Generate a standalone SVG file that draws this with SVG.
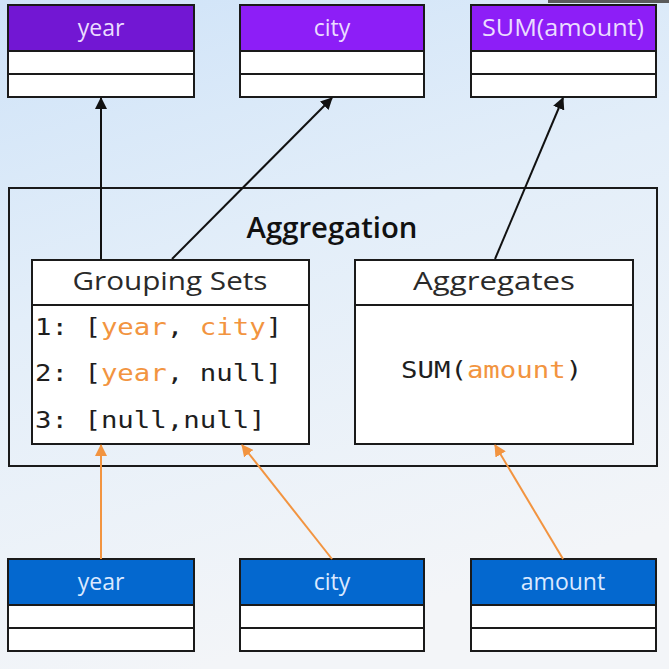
<svg xmlns="http://www.w3.org/2000/svg" width="669" height="669" viewBox="0 0 669 669">
<defs>
<linearGradient id="bg" x1="0" y1="0" x2="0.3" y2="1">
<stop offset="0" stop-color="#cfe3f8"/>
<stop offset="0.45" stop-color="#e3eef9"/>
<stop offset="1" stop-color="#f3f5f8"/>
</linearGradient>
<marker id="ab" markerWidth="12" markerHeight="12" refX="11" refY="6" orient="auto" markerUnits="userSpaceOnUse">
<path d="M0,0 L12,6 L0,12 Z" fill="#111"/>
</marker>
<marker id="ao" markerWidth="12" markerHeight="12" refX="11" refY="6" orient="auto" markerUnits="userSpaceOnUse">
<path d="M0,0 L12,6 L0,12 Z" fill="#f29440"/>
</marker>
<style>
.box{fill:#fff;stroke:#1a1a1a;stroke-width:2}
.hp1{fill:#7217d3;stroke:#1a1a1a;stroke-width:2}
.hp2{fill:#8d1ef7;stroke:#1a1a1a;stroke-width:2}
.hb{fill:#0468cf;stroke:#1a1a1a;stroke-width:2}
.ht{font-family:"Open Sans","Liberation Sans",sans-serif;font-size:23px;fill:#eadcff;text-anchor:middle}
.hbt{font-family:"Open Sans","Liberation Sans",sans-serif;font-size:23px;fill:#dbe9ff;text-anchor:middle}
.title{font-family:"Open Sans","Liberation Sans",sans-serif;font-size:26px;fill:#2a2a2a;text-anchor:middle}
.agg{font-family:"Open Sans","Liberation Sans",sans-serif;font-size:29px;font-weight:600;fill:#111;text-anchor:middle}
.mono{font-family:"DejaVu Sans Mono","Liberation Mono",monospace;font-size:23px;fill:#1e1e1e}
.or{fill:#f29440}
.cb{stroke:#111;stroke-width:2;fill:none;marker-end:url(#ab)}
.co{stroke:#f29440;stroke-width:2;fill:none;marker-end:url(#ao)}
</style>
</defs>
<rect x="0" y="0" width="669" height="669" fill="url(#bg)"/>
<rect x="548" y="0" width="121" height="3" fill="#5a5a5a"/>

<g id="out-year">
<rect class="hp1" x="8" y="5" width="186" height="46"/>
<rect class="box" x="8" y="51" width="186" height="23"/>
<rect class="box" x="8" y="74" width="186" height="23"/>
<text class="ht" x="101" y="36">year</text>
</g>
<g id="out-city">
<rect class="hp2" x="240" y="5" width="184" height="46"/>
<rect class="box" x="240" y="51" width="184" height="23"/>
<rect class="box" x="240" y="74" width="184" height="23"/>
<text class="ht" x="332" y="36">city</text>
</g>
<g id="out-sum">
<rect class="hp2" x="471" y="5" width="185" height="46"/>
<rect class="box" x="471" y="51" width="185" height="23"/>
<rect class="box" x="471" y="74" width="185" height="23"/>
<text class="ht" x="563" y="36" textLength="162" lengthAdjust="spacingAndGlyphs">SUM(amount)</text>
</g>

<g id="aggregation">
<rect x="9" y="188" width="648" height="278" fill="none" stroke="#1a1a1a" stroke-width="2"/>
<text class="agg" x="332" y="238" textLength="171" lengthAdjust="spacingAndGlyphs">Aggregation</text>
</g>
<g id="grouping-sets">
<rect class="box" x="32" y="260" width="277" height="184"/>
<line x1="32" y1="305" x2="309" y2="305" stroke="#1a1a1a" stroke-width="2"/>
<text class="title" x="170" y="290" textLength="195" lengthAdjust="spacingAndGlyphs">Grouping Sets</text>
<text class="mono" transform="translate(35,335) scale(1.19,1)">1: [<tspan class="or">year</tspan>, <tspan class="or">city</tspan>]</text>
<text class="mono" transform="translate(35,381) scale(1.19,1)">2: [<tspan class="or">year</tspan>, null]</text>
<text class="mono" transform="translate(35,428) scale(1.19,1)">3: [null,null]</text>
</g>
<g id="aggregates">
<rect class="box" x="355" y="260" width="278" height="184"/>
<line x1="355" y1="305" x2="633" y2="305" stroke="#1a1a1a" stroke-width="2"/>
<text class="title" x="494" y="290" textLength="162" lengthAdjust="spacingAndGlyphs">Aggregates</text>
<text class="mono" transform="translate(401,378) scale(1.19,1)">SUM(<tspan class="or">amount</tspan>)</text>
</g>

<g id="in-year">
<rect class="hb" x="8" y="559" width="186" height="46"/>
<rect class="box" x="8" y="605" width="186" height="23"/>
<rect class="box" x="8" y="628" width="186" height="23"/>
<text class="hbt" x="101" y="590">year</text>
</g>
<g id="in-city">
<rect class="hb" x="240" y="559" width="184" height="46"/>
<rect class="box" x="240" y="605" width="184" height="23"/>
<rect class="box" x="240" y="628" width="184" height="23"/>
<text class="hbt" x="332" y="590">city</text>
</g>
<g id="in-amount">
<rect class="hb" x="471" y="559" width="185" height="46"/>
<rect class="box" x="471" y="605" width="185" height="23"/>
<rect class="box" x="471" y="628" width="185" height="23"/>
<text class="hbt" x="563" y="590">amount</text>
</g>

<g id="connectors">
<line class="cb" x1="101" y1="259" x2="101" y2="98"/>
<line class="cb" x1="172" y1="259" x2="332" y2="98"/>
<line class="cb" x1="495" y1="259" x2="563" y2="98"/>
<line class="co" x1="101" y1="559" x2="101" y2="445"/>
<line class="co" x1="332" y1="559" x2="242" y2="445"/>
<line class="co" x1="563" y1="559" x2="495" y2="445"/>
</g>
</svg>
